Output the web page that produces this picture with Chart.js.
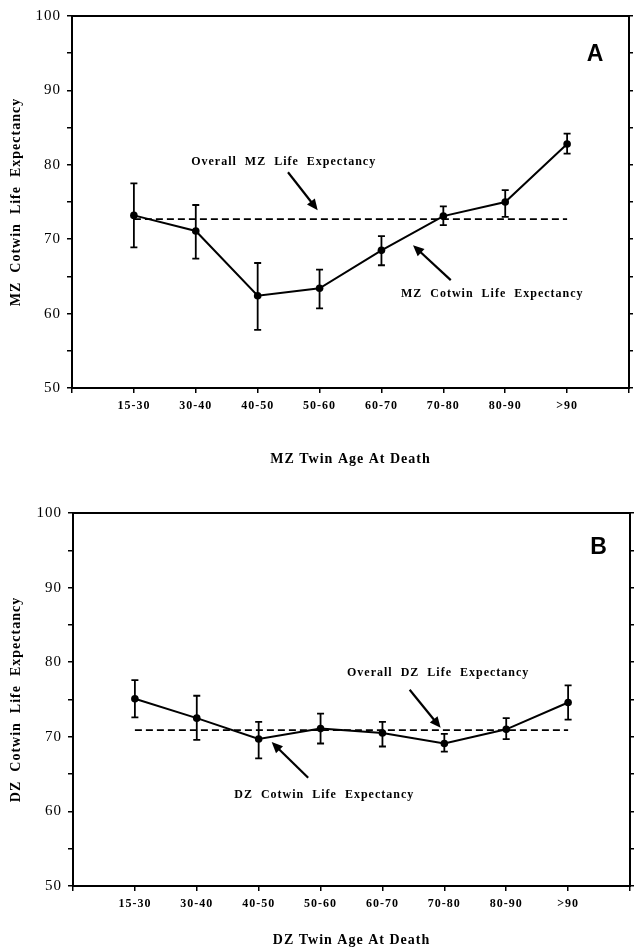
<!DOCTYPE html>
<html lang="en">
<head>
<meta charset="UTF-8">
<title>MZ / DZ Cotwin Life Expectancy</title>
<script src="https://cdn.jsdelivr.net/npm/chart.js"></script>
<style>
  body { margin: 0; background: #fff; }
  .panel { position: absolute; left: 0; width: 636px; }
  #panelA { top: 0; height: 475px; }
  #panelB { top: 475px; height: 474px; }
</style>
</head>
<body>
<div class="panel" id="panelA"><canvas id="chartA"></canvas></div>
<div class="panel" id="panelB"><canvas id="chartB"></canvas></div>

<script>
const ageGroups = ['15-30', '30-40', '40-50', '50-60', '60-70', '70-80', '80-90', '>90'];
const yTicks = [50, 60, 70, 80, 90, 100];

// panel A - monozygotic
const mzCotwin = [73.2, 71.1, 62.4, 63.4, 68.5, 73.1, 75.0, 82.8];
const mzLow    = [68.9, 67.4, 57.8, 60.7, 66.5, 71.9, 73.0, 81.5];
const mzHigh   = [77.5, 74.6, 66.8, 65.9, 70.4, 74.4, 76.6, 84.2];
const mzOverall = 72.7;

// panel B - dizygotic
const dzCotwin = [75.1, 72.5, 69.7, 71.1, 70.5, 69.1, 71.0, 74.6];
const dzLow    = [72.6, 69.6, 67.1, 69.1, 68.7, 68.0, 69.7, 72.3];
const dzHigh   = [77.6, 75.5, 72.0, 73.1, 72.0, 70.4, 72.5, 76.9];
const dzOverall = 70.9;

const serif = '"Liberation Serif", "Times New Roman", serif';
const ink = '#000';

function makeChart(id, cfg) {
  const labels = ['', ...ageGroups, ''];

  // frame round the plot + letter spacing for all text
  const frame = {
    id: 'frame',
    beforeDraw(chart) { chart.ctx.letterSpacing = '1px'; },
    afterDraw(chart) {
      const { ctx, chartArea: a } = chart;
      ctx.save();
      ctx.strokeStyle = ink;
      ctx.lineWidth = 2;
      ctx.strokeRect(a.left, a.top, a.right - a.left, a.bottom - a.top);
      ctx.restore();
    }
  };

  const errorBars = {
    id: 'errorBars',
    afterDatasetsDraw(chart) {
      const { ctx, scales: { x, y } } = chart;
      ctx.save();
      ctx.strokeStyle = ink;
      ctx.lineWidth = 1.8;
      cfg.low.forEach((lo, i) => {
        const px = x.getPixelForValue(i + 1);
        const yl = y.getPixelForValue(lo);
        const yh = y.getPixelForValue(cfg.high[i]);
        ctx.beginPath();
        ctx.moveTo(px, yl); ctx.lineTo(px, yh);
        ctx.moveTo(px - 3.5, yl); ctx.lineTo(px + 3.5, yl);
        ctx.moveTo(px - 3.5, yh); ctx.lineTo(px + 3.5, yh);
        ctx.stroke();
      });
      ctx.restore();
    }
  };

  const notes = {
    id: 'notes',
    afterDraw(chart) {
      const { ctx, scales: { x, y } } = chart;
      const pt = p => [x.getPixelForValue(p[0]), y.getPixelForValue(p[1])];
      ctx.save();
      ctx.fillStyle = ink;
      ctx.strokeStyle = ink;
      ctx.textAlign = 'center';
      ctx.textBaseline = 'middle';

      ctx.font = 'bold 12px ' + serif;
      ctx.letterSpacing = '1px';
      cfg.notes.forEach(n => {
        const [tx, ty] = pt(n.at);
        ctx.fillText(n.text, tx, ty);
        const [fx, fy] = pt(n.from);
        const [ex, ey] = pt(n.to);
        const ang = Math.atan2(ey - fy, ex - fx);
        ctx.lineWidth = 2.2;
        ctx.beginPath();
        ctx.moveTo(fx, fy);
        ctx.lineTo(ex - 6 * Math.cos(ang), ey - 6 * Math.sin(ang));
        ctx.stroke();
        ctx.beginPath();
        ctx.moveTo(ex, ey);
        ctx.lineTo(ex - 11 * Math.cos(ang) + 5 * Math.sin(ang), ey - 11 * Math.sin(ang) - 5 * Math.cos(ang));
        ctx.lineTo(ex - 11 * Math.cos(ang) - 5 * Math.sin(ang), ey - 11 * Math.sin(ang) + 5 * Math.cos(ang));
        ctx.closePath();
        ctx.fill();
      });

      ctx.letterSpacing = '0px';
      ctx.font = 'bold 23px "Liberation Sans", Arial, sans-serif';
      const [lx, ly] = pt(cfg.letterAt);
      ctx.fillText(cfg.letter, lx, ly);
      ctx.restore();
    }
  };

  return new Chart(document.getElementById(id), {
    type: 'line',
    data: {
      labels,
      datasets: [
        {
          data: [null, ...cfg.cotwin, null],
          borderColor: ink,
          borderWidth: 2,
          pointRadius: 3.8,
          pointBackgroundColor: ink,
          pointBorderWidth: 0,
          tension: 0
        },
        {
          data: [null, ...ageGroups.map(() => cfg.overall), null],
          borderColor: ink,
          borderWidth: 1.8,
          borderDash: [7, 4],
          pointRadius: 0,
          tension: 0
        }
      ]
    },
    options: {
      responsive: true,
      maintainAspectRatio: false,
      animation: false,
      layout: { padding: cfg.padding },
      plugins: { legend: { display: false }, tooltip: { enabled: false } },
      scales: {
        x: {
          type: 'category',
          offset: false,
          grid: { drawOnChartArea: false, tickLength: 5, color: ink, lineWidth: 1.5 },
          border: { color: ink, width: 2 },
          ticks: {
            color: ink, autoSkip: false, maxRotation: 0, padding: 6,
            font: { family: serif, size: 12, weight: 'bold' }
          },
          title: {
            display: true, text: cfg.xTitle, color: ink,
            font: { family: serif, size: 14, weight: 'bold' },
            padding: { top: 0, bottom: 0 }
          },
          afterFit: s => { s.height = cfg.xHeight; }
        },
        y: {
          min: 50, max: 100,
          grid: { drawOnChartArea: false, tickLength: 5, color: ink, lineWidth: 1.5 },
          border: { color: ink, width: 2 },
          ticks: {
            stepSize: 5, color: ink, padding: 6,
            font: { family: serif, size: 15 },
            callback: v => yTicks.includes(v) ? v : ''
          },
          title: {
            display: true, text: cfg.yTitle, color: ink,
            font: { family: serif, size: 14, weight: 'bold' },
            padding: { top: 8, bottom: 0 }
          },
          afterFit: s => { s.width = cfg.axisLeft; }
        },
        y2: {
          position: 'right',
          min: 50, max: 100,
          grid: { drawOnChartArea: false, tickLength: 4, color: ink, lineWidth: 1.5 },
          border: { color: ink, width: 2 },
          ticks: { display: false, stepSize: 5 },
          afterFit: s => { s.width = cfg.axisRight; }
        }
      }
    },
    plugins: [frame, errorBars, notes]
  });
}

makeChart('chartA', {
  cotwin: mzCotwin, low: mzLow, high: mzHigh, overall: mzOverall,
  xTitle: 'MZ Twin Age At Death',
  yTitle: 'MZ  Cotwin  Life  Expectancy',
  letter: 'A', letterAt: [8.45, 94.8],
  notes: [
    { text: 'Overall  MZ  Life  Expectancy', at: [3.42, 80.4], from: [3.49, 79.0], to: [3.97, 73.9] },
    { text: 'MZ  Cotwin  Life  Expectancy', at: [6.79, 62.6], from: [6.12, 64.5], to: [5.51, 69.2] }
  ],
  padding: { top: 16, left: 0, right: 0, bottom: 7 },
  axisLeft: 72, axisRight: 7, xHeight: 80
});

makeChart('chartB', {
  cotwin: dzCotwin, low: dzLow, high: dzHigh, overall: dzOverall,
  xTitle: 'DZ Twin Age At Death',
  yTitle: 'DZ  Cotwin  Life  Expectancy',
  letter: 'B', letterAt: [8.49, 95.4],
  notes: [
    { text: 'Overall  DZ  Life  Expectancy', at: [5.90, 78.6], from: [5.44, 76.3], to: [5.94, 71.2] },
    { text: 'DZ  Cotwin  Life  Expectancy', at: [4.06, 62.2], from: [3.80, 64.5], to: [3.21, 69.3] }
  ],
  padding: { top: 38, left: 0, right: 0, bottom: 0 },
  axisLeft: 73, axisRight: 3, xHeight: 63
});
</script>
</body>
</html>
